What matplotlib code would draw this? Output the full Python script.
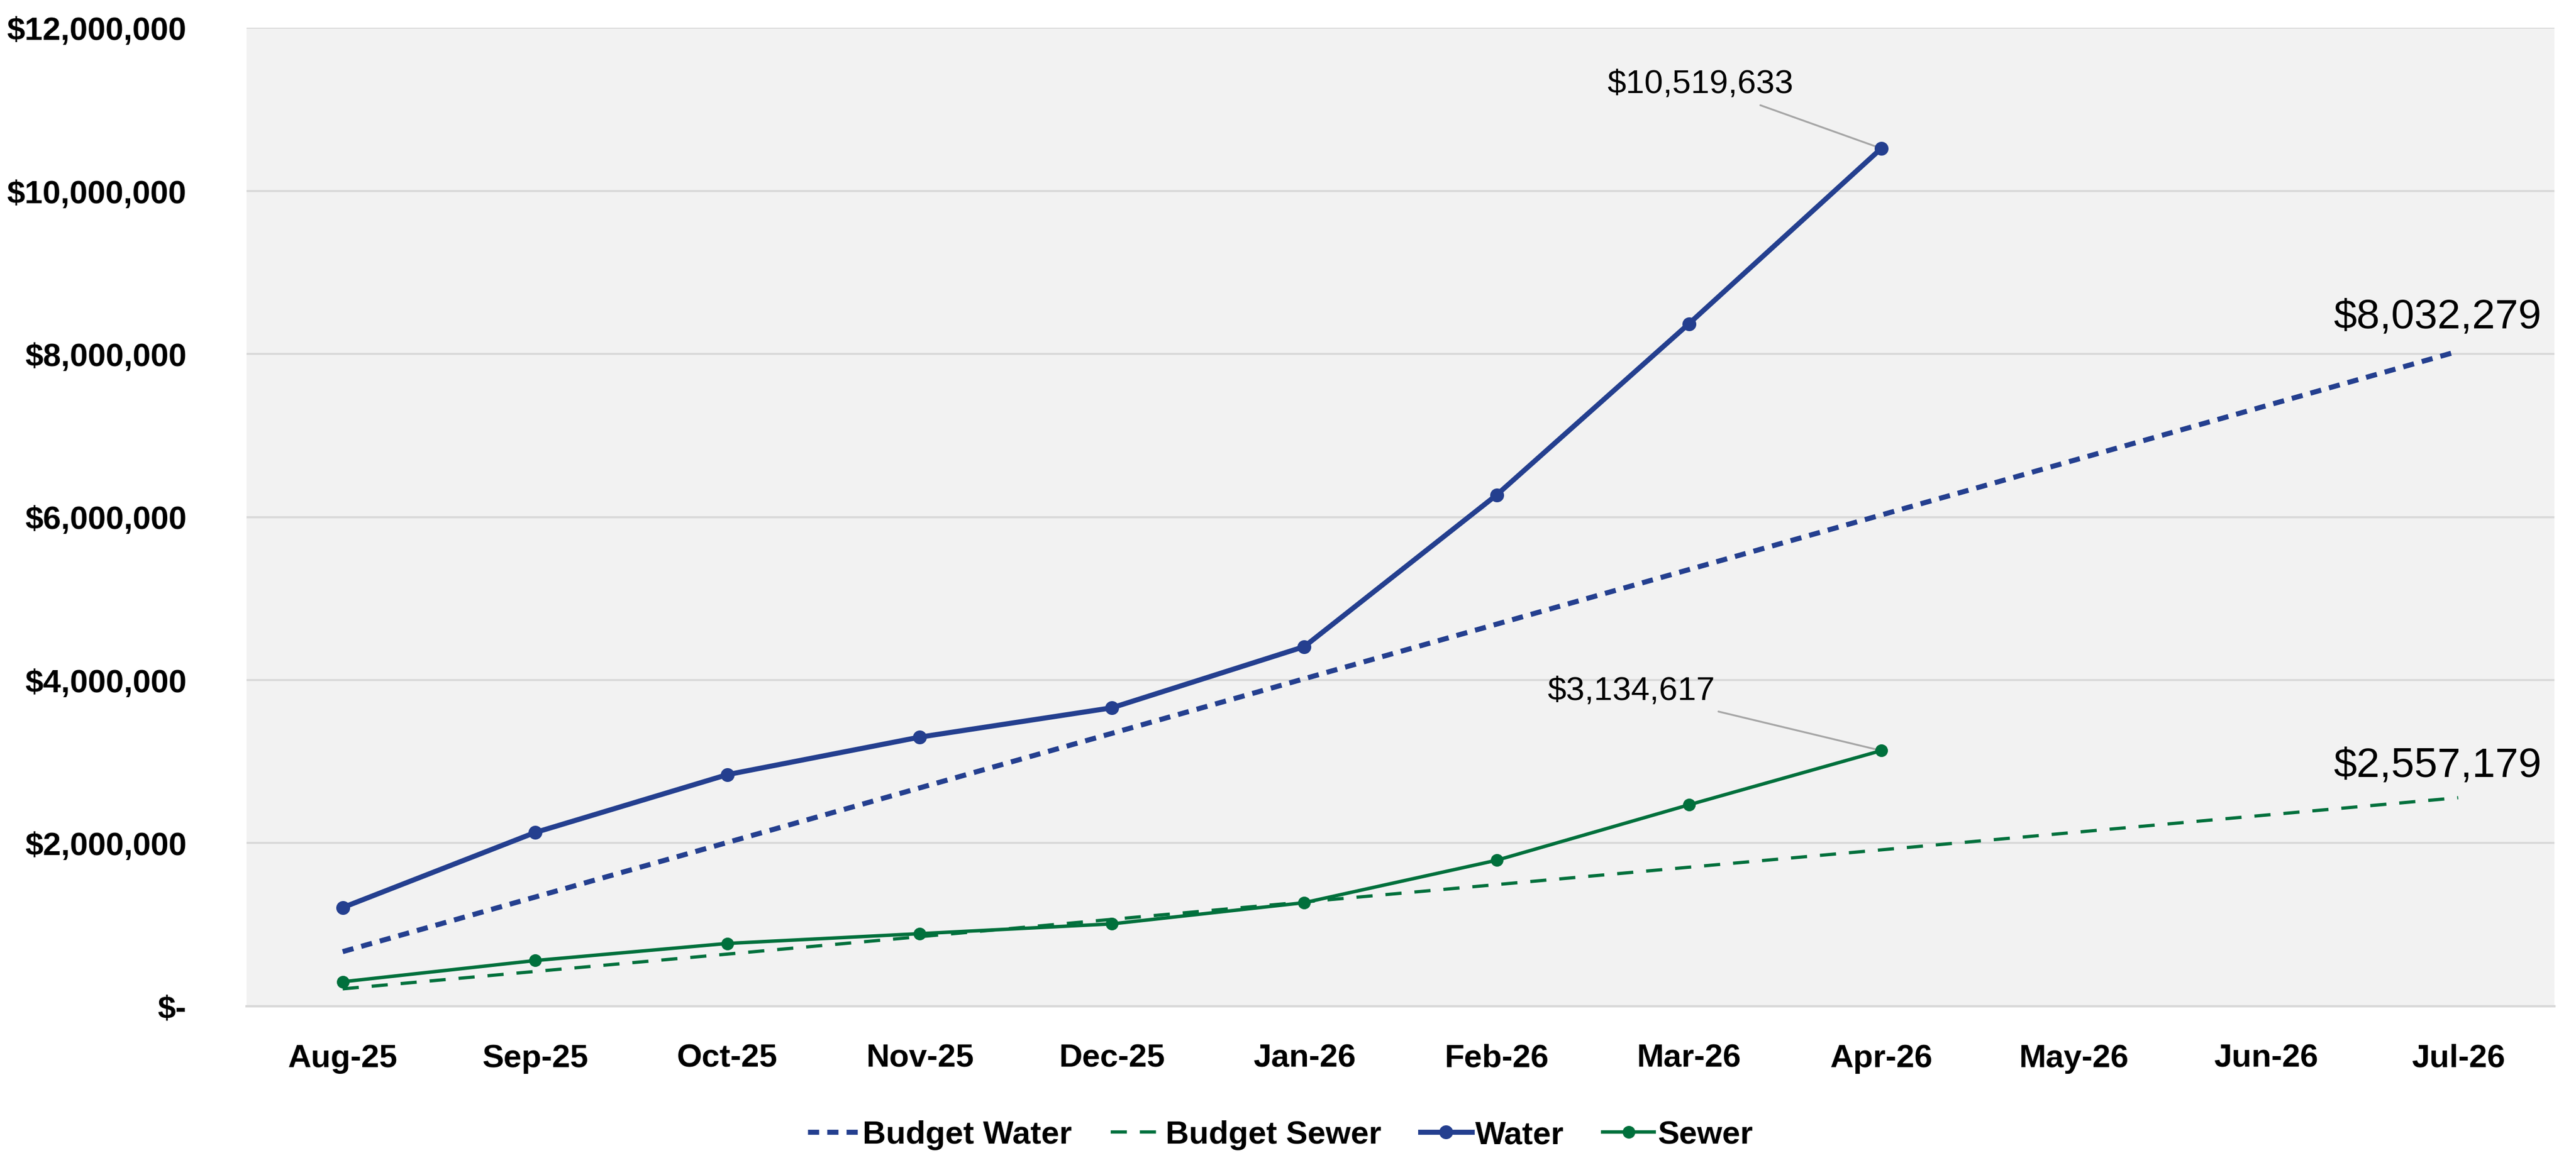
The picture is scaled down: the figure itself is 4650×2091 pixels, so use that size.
import matplotlib
matplotlib.use("Agg")
import matplotlib.pyplot as plt
from matplotlib.ticker import FuncFormatter

months = ["Aug-25", "Sep-25", "Oct-25", "Nov-25", "Dec-25", "Jan-26",
          "Feb-26", "Mar-26", "Apr-26", "May-26", "Jun-26", "Jul-26"]

budget_water = [669357, 1338713, 2008070, 2677426, 3346783, 4016140,
                4685496, 5354853, 6024209, 6693566, 7362923, 8032279]
budget_sewer = [213098, 426196, 639295, 852393, 1065491, 1278590,
                1491688, 1704786, 1917884, 2130983, 2344081, 2557179]
water = [1210000, 2130000, 2840000, 3300000, 3660000, 4410000,
         6270000, 8370000, 10519633]
sewer = [300000, 560000, 770000, 890000, 1010000, 1270000,
         1790000, 2470000, 3134617]

BLUE = "#243F8F"
GREEN = "#00703C"
narrow = ["Liberation Sans Narrow", "Liberation Sans", "DejaVu Sans"]
wide = ["Liberation Sans", "DejaVu Sans"]

fig = plt.figure(figsize=(15.5, 6.9733), dpi=300)
ax = fig.add_axes([0.0957, 0.131, 0.8959, 0.8446])
ax.set_facecolor("#F2F2F2")

x_all = list(range(len(months)))
x_act = list(range(len(water)))

ax.plot(x_all, budget_water, color=BLUE, lw=2.2, ls=(0, (2.2, 1.6)),
        label="Budget Water", zorder=3)
ax.plot(x_all, budget_sewer, color=GREEN, lw=1.4, ls=(0, (5, 4)),
        label="Budget Sewer", zorder=3)
ax.plot(x_act, water, color=BLUE, lw=2.2, marker="o", ms=5,
        label="Water", zorder=4)
ax.plot(x_act, sewer, color=GREEN, lw=1.5, marker="o", ms=4.5,
        label="Sewer", zorder=4)

ax.set_xlim(-0.5, len(months) - 0.5)
ax.set_ylim(0, 12000000)
ax.set_yticks(range(0, 12000001, 2000000))
ax.yaxis.set_major_formatter(FuncFormatter(
    lambda v, p: "$-" if v == 0 else "${:,.0f}".format(v)))
ax.set_xticks(x_all)
ax.set_xticklabels(months)
ax.grid(axis="y", color="#D9D9D9", lw=0.9)
ax.set_axisbelow(True)
for s in ["top", "left", "right"]:
    ax.spines[s].set_visible(False)
ax.spines["bottom"].set_color("#D9D9D9")
ax.spines["bottom"].set_linewidth(1.0)
ax.tick_params(axis="both", length=0)
ax.tick_params(axis="y", pad=26)
ax.tick_params(axis="x", pad=16)
for lab in ax.get_xticklabels() + ax.get_yticklabels():
    lab.set_family(narrow)
    lab.set_fontweight("bold")
    lab.set_fontsize(14)

# end-point labels with leader lines
ax.annotate("${:,.0f}".format(water[-1]), xy=(x_act[-1], water[-1]),
            xytext=(-38, 28), textcoords="offset points", ha="right",
            va="center", family=narrow, fontsize=14.5,
            arrowprops=dict(arrowstyle="-", color="#A6A6A6", lw=0.8,
                            shrinkA=2, shrinkB=2))
ax.annotate("${:,.0f}".format(sewer[-1]), xy=(x_act[-1], sewer[-1]),
            xytext=(-72, 26), textcoords="offset points", ha="right",
            va="center", family=narrow, fontsize=14.5,
            arrowprops=dict(arrowstyle="-", color="#A6A6A6", lw=0.8,
                            shrinkA=2, shrinkB=2))
ax.annotate("${:,.0f}".format(budget_water[-1]),
            xy=(x_all[-1], budget_water[-1]), xytext=(-9, 15),
            textcoords="offset points", ha="center", va="center",
            family=wide, fontsize=18)
ax.annotate("${:,.0f}".format(budget_sewer[-1]),
            xy=(x_all[-1], budget_sewer[-1]), xytext=(-9, 14),
            textcoords="offset points", ha="center", va="center",
            family=wide, fontsize=18)

leg = fig.legend(loc="lower center", bbox_to_anchor=(0.497, -0.018), ncol=4,
                 frameon=False, handlelength=1.6, handletextpad=0.1,
                 columnspacing=1.2,
                 prop=dict(family=narrow, weight="bold", size=14))

fig.savefig("out.png", dpi=300, facecolor="white")
